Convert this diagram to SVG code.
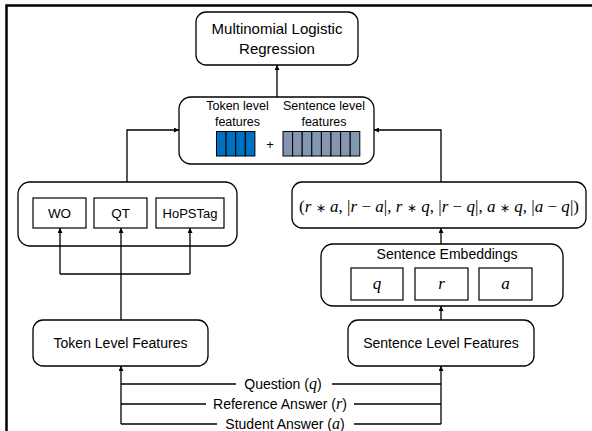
<svg xmlns="http://www.w3.org/2000/svg" width="592" height="431" viewBox="0 0 592 431">
  <style>
    .box { fill: #fff; stroke: #000; stroke-width: 1.3; }
    .sq { fill: #fff; stroke: #000; stroke-width: 1.2; }
    .txt { font-family: "Liberation Sans", Arial, sans-serif; font-size: 14px; fill: #000; text-anchor: middle; }
    .math { font-family: "Liberation Serif", "Times New Roman", serif; font-style: italic; }
    .up { font-family: "Liberation Serif", "Times New Roman", serif; font-style: normal; }
    .op { font-family: "DejaVu Sans", sans-serif; font-style: normal; font-size: 12px; }
    .line { fill: none; stroke: #000; stroke-width: 1.3; }
    .arr { fill: none; stroke: #000; stroke-width: 1.3; marker-end: url(#ah); }
    .blue { fill: #0070C0; stroke: #000; stroke-width: 1; }
    .grey { fill: #8497B0; stroke: #000; stroke-width: 1; }
  </style>
  <defs>
    <marker id="ah" viewBox="0 0 10 10" refX="10" refY="5" markerWidth="5" markerHeight="5" markerUnits="userSpaceOnUse" orient="auto">
      <path d="M0,0 L10,5 L0,10 z" fill="#000"/>
    </marker>
  </defs>

  <rect width="592" height="431" fill="#fff"/>
  <!-- frame -->
  <path d="M6.5,431 V5.5 H592" fill="none" stroke="#000" stroke-width="2.5"/>

  <g id="regression">
    <rect class="box" x="196" y="12" width="162" height="53" rx="10"/>
    <text class="txt" x="277" y="34" style="font-size:15px">Multinomial Logistic</text>
    <text class="txt" x="277" y="54" style="font-size:15px">Regression</text>
  </g>

  <g id="features">
    <rect class="box" x="179" y="97" width="195" height="67" rx="12"/>
    <text class="txt" x="237.5" y="110" style="font-size:12.5px">Token level</text>
    <text class="txt" x="237.5" y="126" style="font-size:12.5px">features</text>
    <text class="txt" x="324" y="110" style="font-size:12.5px">Sentence level</text>
    <text class="txt" x="324" y="126" style="font-size:12.5px">features</text>
    <g id="token-vector">
      <rect class="blue" x="216.5" y="131.5" width="9.6" height="24.5"/>
      <rect class="blue" x="226.1" y="131.5" width="9.6" height="24.5"/>
      <rect class="blue" x="235.7" y="131.5" width="9.6" height="24.5"/>
      <rect class="blue" x="245.3" y="131.5" width="9.6" height="24.5"/>
    </g>
    <text class="txt" x="270" y="149" style="font-size:13px">+</text>
    <g id="sentence-vector">
      <rect class="grey" x="283" y="131.5" width="9.6" height="24.5"/>
      <rect class="grey" x="292.6" y="131.5" width="9.6" height="24.5"/>
      <rect class="grey" x="302.2" y="131.5" width="9.6" height="24.5"/>
      <rect class="grey" x="311.8" y="131.5" width="9.6" height="24.5"/>
      <rect class="grey" x="321.4" y="131.5" width="9.6" height="24.5"/>
      <rect class="grey" x="331" y="131.5" width="9.6" height="24.5"/>
      <rect class="grey" x="340.6" y="131.5" width="9.6" height="24.5"/>
      <rect class="grey" x="350.2" y="131.5" width="9.6" height="24.5"/>
    </g>
  </g>

  <g id="token-group">
    <rect class="box" x="18" y="182" width="219" height="64" rx="12"/>
    <g id="wo">
      <rect class="sq" x="33" y="198" width="53" height="30"/>
      <text class="txt" x="59.5" y="218" style="font-size:13.5px">WO</text>
    </g>
    <g id="qt">
      <rect class="sq" x="94" y="198" width="53" height="30"/>
      <text class="txt" x="120.5" y="218" style="font-size:13.5px">QT</text>
    </g>
    <g id="hopstag">
      <rect class="sq" x="156" y="198" width="68" height="30"/>
      <text class="txt" x="190" y="218" style="font-size:13px">HoPSTag</text>
    </g>
  </g>

  <g id="combination">
    <rect class="box" x="292" y="182" width="294" height="46" rx="10"/>
    <text class="txt math" x="439" y="212" style="font-size:17px" textLength="280" lengthAdjust="spacing"><tspan class="up">(</tspan>r <tspan class="op">∗</tspan> a<tspan class="up">, |</tspan>r <tspan class="up">−</tspan> a<tspan class="up">|, </tspan>r <tspan class="op">∗</tspan> q<tspan class="up">, |</tspan>r <tspan class="up">−</tspan> q<tspan class="up">|, </tspan>a <tspan class="op">∗</tspan> q<tspan class="up">, |</tspan>a <tspan class="up">−</tspan> q<tspan class="up">|)</tspan></text>
  </g>

  <g id="embeddings">
    <rect class="box" x="321" y="244" width="242" height="62" rx="12"/>
    <text class="txt" x="447" y="259">Sentence Embeddings</text>
    <g id="emb-q">
      <rect class="sq" x="351" y="268" width="52" height="32"/>
      <text class="txt math" x="377" y="289" style="font-size:17px">q</text>
    </g>
    <g id="emb-r">
      <rect class="sq" x="415" y="268" width="53" height="32"/>
      <text class="txt math" x="441.5" y="289" style="font-size:17px">r</text>
    </g>
    <g id="emb-a">
      <rect class="sq" x="479" y="268" width="53" height="32"/>
      <text class="txt math" x="505.5" y="289" style="font-size:17px">a</text>
    </g>
  </g>

  <g id="token-level">
    <rect class="box" x="33" y="320" width="175" height="46" rx="10"/>
    <text class="txt" x="120.5" y="348">Token Level Features</text>
  </g>

  <g id="sentence-level">
    <rect class="box" x="348" y="320" width="186" height="46" rx="10"/>
    <text class="txt" x="441" y="348">Sentence Level Features</text>
  </g>

  <g id="inputs">
    <text class="txt" x="283" y="389">Question (<tspan class="math" style="font-size:16px">q</tspan>)</text>
    <text class="txt" x="280" y="409">Reference Answer (<tspan class="math" style="font-size:16px">r</tspan>)</text>
    <text class="txt" x="285" y="429">Student Answer (<tspan class="math" style="font-size:16px">a</tspan>)</text>
  </g>

  <g id="connectors">
    <path class="arr" d="M277,97 V65"/>
    <path class="arr" d="M127,182 V130 H179"/>
    <path class="arr" d="M441,182 V130 H374"/>
    <path class="arr" d="M441,244 V228"/>
    <path class="arr" d="M441,320 V306"/>
    <path class="arr" d="M121,320 V228"/>
    <path class="line" d="M60,274 H190"/>
    <path class="arr" d="M60,274 V228"/>
    <path class="arr" d="M190,274 V228"/>
    <path class="arr" d="M121,424 V366"/>
    <path class="arr" d="M441,424 V366"/>
    <path class="line" d="M121,384 H236 M332,384 H441"/>
    <path class="line" d="M121,404 H206 M354,404 H441"/>
    <path class="line" d="M121,424 H217 M354,424 H441"/>
  </g>
</svg>
